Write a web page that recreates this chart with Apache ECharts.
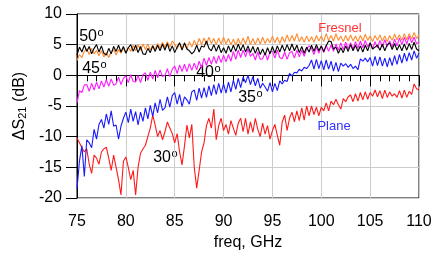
<!DOCTYPE html>
<html>
<head>
<meta charset="utf-8">
<script src="https://cdn.jsdelivr.net/npm/echarts@6/dist/echarts.min.js"></script>
<style>
  html, body { margin: 0; padding: 0; background: #fff; }
  #chart { width: 439px; height: 253px; }
</style>
</head>
<body>
<div id="chart"></div>
<script>
// frequency grid, GHz
const freq = [
  75, 75.25, 75.5, 75.75, 76, 76.25, 76.5, 76.75,
  77, 77.25, 77.5, 77.75, 78, 78.25, 78.5, 78.75,
  79, 79.25, 79.5, 79.75, 80, 80.25, 80.5, 80.75,
  81, 81.25, 81.5, 81.75, 82, 82.25, 82.5, 82.75,
  83, 83.25, 83.5, 83.75, 84, 84.25, 84.5, 84.75,
  85, 85.25, 85.5, 85.75, 86, 86.25, 86.5, 86.75,
  87, 87.25, 87.5, 87.75, 88, 88.25, 88.5, 88.75,
  89, 89.25, 89.5, 89.75, 90, 90.25, 90.5, 90.75,
  91, 91.25, 91.5, 91.75, 92, 92.25, 92.5, 92.75,
  93, 93.25, 93.5, 93.75, 94, 94.25, 94.5, 94.75,
  95, 95.25, 95.5, 95.75, 96, 96.25, 96.5, 96.75,
  97, 97.25, 97.5, 97.75, 98, 98.25, 98.5, 98.75,
  99, 99.25, 99.5, 99.75, 100, 100.25, 100.5, 100.75,
  101, 101.25, 101.5, 101.75, 102, 102.25, 102.5, 102.75,
  103, 103.25, 103.5, 103.75, 104, 104.25, 104.5, 104.75,
  105, 105.25, 105.5, 105.75, 106, 106.25, 106.5, 106.75,
  107, 107.25, 107.5, 107.75, 108, 108.25, 108.5, 108.75,
  109, 109.25, 109.5, 109.75, 110
];

// orange
const ang45 = [
  2.4, 3.4, 2.9, 3.9, 4.3, 3.4, 4.4, 3.5,
  4.1, 3.2, 4.0, 3.0, 3.7, 2.9, 3.8, 4.2,
  3.3, 4.2, 3.6, 4.5, 3.7, 4.6, 3.9, 4.9,
  4.0, 5.0, 4.1, 5.1, 4.2, 5.1, 4.1, 4.9,
  4.2, 5.2, 4.4, 5.4, 4.5, 5.5, 4.6, 5.6,
  5.1, 4.3, 5.3, 4.4, 5.2, 4.3, 5.5, 4.6,
  5.7, 4.8, 6.0, 5.0, 6.1, 5.1, 6.2, 5.2,
  6.0, 5.0, 6.1, 5.1, 6.2, 5.1, 6.0, 5.0,
  5.9, 4.9, 6.0, 5.0, 6.1, 5.1, 6.4, 5.0,
  6.0, 5.0, 6.1, 5.1, 6.2, 5.2, 6.0, 5.3,
  6.4, 5.3, 6.2, 5.2, 6.3, 5.4, 6.6, 5.5,
  6.5, 5.6, 6.8, 5.5, 6.3, 5.4, 6.4, 5.5,
  6.3, 5.4, 6.5, 5.6, 6.4, 5.5, 6.8, 5.7,
  6.5, 5.6, 6.8, 5.7, 6.4, 5.5, 6.5, 5.6,
  6.6, 5.6, 6.4, 5.5, 6.5, 5.6, 6.7, 5.7,
  6.4, 5.5, 6.5, 5.7, 6.6, 5.6, 6.4, 5.5,
  6.5, 5.7, 6.7, 5.8, 6.6, 5.7, 6.8, 5.8,
  6.8, 5.9, 7.0, 6.0, 6.6
];

// black
const ang50 = [
  3.3, 4.6, 3.8, 4.9, 3.9, 4.7, 3.5, 4.4,
  5.0, 3.8, 4.8, 3.6, 3.3, 4.4, 3.5, 4.7,
  3.9, 4.9, 3.8, 4.7, 3.6, 4.5, 5.0, 3.9,
  4.9, 3.7, 4.7, 3.5, 3.4, 4.4, 3.7, 4.8,
  3.9, 4.9, 4.0, 5.1, 4.1, 5.2, 3.9, 4.8,
  3.7, 4.6, 5.3, 4.1, 5.3, 4.3, 4.0, 3.5,
  3.9, 4.9, 3.8, 4.8, 4.6, 5.6, 4.4, 4.0,
  5.0, 3.9, 4.9, 3.7, 4.5, 3.6, 4.8, 3.8,
  4.9, 3.9, 5.1, 4.0, 5.0, 3.8, 4.8, 3.7,
  4.7, 3.6, 4.6, 3.4, 4.3, 3.3, 4.5, 3.5,
  4.7, 3.6, 4.8, 3.8, 4.9, 3.9, 5.0, 4.0,
  5.1, 4.0, 4.9, 3.7, 4.7, 3.6, 4.6, 3.8,
  4.9, 3.9, 5.0, 4.0, 4.8, 3.9, 4.8, 5.6,
  5.5, 4.3, 4.6, 3.6, 4.5, 3.7, 4.8, 3.9,
  5.0, 4.0, 4.9, 3.9, 4.8, 3.8, 4.9, 4.0,
  5.3, 4.3, 4.6, 4.9, 4.1, 5.1, 4.0, 5.0,
  5.3, 4.2, 5.2, 4.1, 5.0, 4.0, 5.1, 4.1,
  5.2, 4.2, 5.4, 4.3, 4.0
];

// magenta
const ang40 = [
  -4.5, -2.5, -2.8, -1.6, -1.5, -2.6, -1.3, -2.4,
  -1.1, -2.2, -0.9, -1.9, -0.7, -1.8, -0.6, -1.6,
  -1.4, -0.3, -1.5, -0.5, -0.1, -1.2, 0.1, -1.0,
  -1.1, 0.0, -1.2, 0.1, 0.4, -0.8, 0.5, -0.6,
  0.8, -0.4, 0.9, -0.2, 0.0, 1.1, -0.2, 1.0,
  1.5, 0.3, 1.7, 0.6, 1.8, 0.6, 1.9, 0.8,
  2.0, 0.9, 2.3, 1.2, 2.8, 1.6, 2.9, 1.8,
  3.1, 1.9, 3.2, 2.1, 3.3, 2.2, 3.4, 2.3,
  3.9, 2.6, 4.1, 2.9, 4.1, 3.0, 4.3, 3.1,
  3.6, 2.5, 3.8, 2.6, 2.7, 3.7, 2.5, 3.8,
  3.9, 2.8, 4.1, 2.9, 2.7, 3.8, 2.6, 3.7,
  3.9, 2.8, 4.1, 3.0, 4.1, 3.1, 4.3, 4.8,
  4.4, 3.4, 4.6, 3.6, 4.8, 3.7, 4.9, 3.9,
  4.9, 3.9, 5.1, 4.1, 5.3, 4.2, 5.4, 4.3,
  5.3, 4.3, 5.5, 4.4, 5.6, 4.5, 5.7, 4.6,
  5.3, 4.3, 5.5, 4.5, 5.7, 4.6, 5.8, 4.7,
  5.6, 4.6, 5.9, 4.8, 6.1, 5.0, 6.2, 5.1,
  6.4, 5.3, 6.2, 5.2, 5.4
];

// blue
const ang35 = [
  -18.5, -14.0, -11.5, -16.5, -10.5, -11.0, -11.8, -8.8,
  -10.4, -8.0, -7.2, -8.6, -6.3, -8.0, -5.8, -8.3,
  -8.1, -10.4, -8.3, -7.0, -6.0, -7.7, -5.5, -7.5,
  -5.9, -8.1, -6.0, -7.5, -5.3, -7.1, -4.9, -6.7,
  -4.5, -6.1, -3.9, -5.7, -5.3, -3.5, -5.2, -3.3,
  -2.8, -4.7, -3.1, -5.1, -3.5, -4.0, -4.7, -2.7,
  -2.4, -4.1, -2.1, -3.7, -2.0, -3.6, -1.7, -3.3,
  -1.5, -3.1, -1.3, -2.9, -1.4, -2.9, -1.1, -2.7,
  -0.8, -2.3, -0.5, -2.0, -0.3, -1.2, 0.0, -1.5,
  -0.2, -1.7, -0.5, -2.1, -1.3, -1.9, -2.6, -1.2,
  -2.7, -1.3, -2.5, -0.9, -1.4, -0.8, -1.0, 0.3,
  -0.1, 0.5, 0.4, 1.0, 0.7, 1.3, 1.1, 1.6,
  2.5, 1.0, 2.6, 1.1, 2.4, 0.9, 2.5, 1.0,
  2.3, 0.7, 2.1, 0.6, 2.0, 1.5, 1.9, 1.3,
  1.8, 1.1, 1.5, 0.9, 2.7, 2.3, 2.8, 2.2,
  2.9, 1.5, 3.1, 1.6, 3.0, 1.5, 2.8, 1.4,
  2.9, 1.6, 3.2, 1.8, 3.4, 2.0, 3.6, 2.3,
  3.7, 2.5, 4.0, 2.8, 3.6
];

// red
const ang30 = [
  -10.2, -11.0, -11.8, -12.5, -12.0, -14.5, -16.0, -13.0,
  -13.5, -14.5, -12.5, -12.0, -11.7, -13.5, -15.5, -13.0,
  -15.0, -17.0, -19.5, -14.0, -13.3, -15.0, -17.0, -15.5,
  -19.5, -15.0, -12.7, -12.0, -11.4, -10.0, -8.6, -6.5,
  -8.1, -10.0, -9.0, -10.5, -9.2, -7.6, -8.6, -9.5,
  -11.0, -9.5, -12.5, -14.6, -11.5, -8.1, -10.2, -8.0,
  -15.0, -18.4, -15.5, -12.5, -11.0, -8.2, -7.0, -8.6,
  -5.5, -10.5, -8.2, -7.0, -9.0, -8.0, -9.6, -7.4,
  -8.6, -9.8, -7.8, -7.0, -9.2, -7.0, -9.6, -7.6,
  -9.3, -7.0, -8.8, -10.0, -7.8, -9.6, -8.2, -10.4,
  -9.0, -8.0, -9.8, -11.4, -7.6, -6.5, -9.0, -7.0,
  -6.0, -7.6, -5.8, -7.4, -5.3, -7.3, -5.0, -6.6,
  -5.0, -6.4, -5.2, -6.6, -5.2, -5.8, -4.5, -5.8,
  -4.2, -4.8, -3.9, -4.8, -5.5, -3.8, -4.3, -3.5,
  -3.2, -4.3, -3.0, -4.2, -2.8, -4.0, -2.7, -3.9,
  -2.8, -3.4, -2.4, -3.5, -2.5, -3.8, -2.4, -3.6,
  -2.7, -3.4, -3.0, -3.6, -2.5, -3.7, -2.4, -3.6,
  -2.6, -3.1, -1.4, -2.2, -2.4
];

const xTicks = [75, 80, 85, 90, 95, 100, 105, 110];
const yTicks = [-20, -15, -10, -5, 0, 5, 10];

const FONT = "'Liberation Sans', Arial, sans-serif";

const chart = echarts.init(document.getElementById("chart"), null, { renderer: "canvas" });

const mkLine = (name, arr, color) => ({
  name: name,
  type: "line",
  data: freq.map((f, i) => [f, arr[i]]),
  showSymbol: false,
  symbol: "none",
  lineStyle: { color: color, width: 1.1 },
  itemStyle: { color: color },
  z: 3,
});

// angle label: digits plus a small raised "o"
const angleLabel = (txt, x, y) => ({
  type: "group",
  x: x,
  y: y,
  z: 10,
  children: [
    {
      type: "text",
      x: 6,
      y: 0,
      style: { text: txt, fill: "#000", font: "16px " + FONT, align: "right", verticalAlign: "middle" },
    },
    {
      type: "text",
      x: 6.5,
      y: -10,
      style: { text: "o", fill: "#000", font: "11px " + FONT, align: "left", verticalAlign: "top" },
    },
  ],
});

const noteText = (txt, x, y, color) => ({
  type: "text",
  x: x,
  y: y,
  z: 10,
  style: { text: txt, fill: color, font: "13px " + FONT, align: "center", verticalAlign: "middle" },
});

const option = {
  animation: false,
  backgroundColor: "#fff",
  grid: {
    left: 77,
    right: 20,
    top: 14,
    bottom: 55,
    show: true,
    borderColor: "#000",
    borderWidth: 1,
    outerBoundsMode: "none",
  },
  xAxis: {
    type: "value",
    min: xTicks[0],
    max: xTicks[xTicks.length - 1],
    interval: 5,
    name: "freq, GHz",
    nameLocation: "middle",
    nameGap: 33,
    nameTextStyle: { fontSize: 16, color: "#000", fontFamily: FONT },
    axisLine: { lineStyle: { color: "#000", width: 1 } },
    axisTick: { show: true, inside: false, length: 11, lineStyle: { color: "#000", width: 1 } },
    minorTick: { show: true, splitNumber: 5, length: 6, lineStyle: { color: "#000", width: 1 } },
    axisLabel: { fontSize: 16, color: "#000", fontFamily: FONT, margin: 16 },
    splitLine: { show: true, lineStyle: { color: "#cccccc", width: 1 } },
  },
  yAxis: {
    type: "value",
    min: yTicks[0],
    max: yTicks[yTicks.length - 1],
    interval: 5,
    name: "ΔS{sub|21} (dB)",
    nameLocation: "middle",
    nameGap: 47,
    nameRotate: 90,
    nameTextStyle: {
      fontSize: 16,
      color: "#000",
      fontFamily: FONT,
      rich: { sub: { fontSize: 11, verticalAlign: "bottom", color: "#000", fontFamily: FONT, padding: [6, 0, 0, 0] } },
    },
    axisLine: { lineStyle: { color: "#000", width: 1 } },
    axisTick: { show: true, inside: false, length: 11, lineStyle: { color: "#000", width: 1 } },
    axisLabel: { fontSize: 16, color: "#000", fontFamily: FONT, margin: 15 },
    splitLine: { show: true, lineStyle: { color: "#cccccc", width: 1 } },
  },
  series: [
    mkLine("30°", ang30, "#ff1a1a"),
    mkLine("35°", ang35, "#1a1aff"),
    mkLine("40°", ang40, "#ff1aff"),
    mkLine("45°", ang45, "#ff8a2e"),
    mkLine("50°", ang50, "#000000"),
  ],
  graphic: [
    angleLabel("50", 91, 37),
    angleLabel("45", 94, 69),
    angleLabel("40", 208, 73),
    angleLabel("35", 250, 98),
    angleLabel("30", 165, 158),
    noteText("Fresnel", 340, 28, "#ff3333"),
    noteText("Plane", 334, 126, "#3333ff"),
  ],
};

chart.setOption(option);
</script>
</body>
</html>
